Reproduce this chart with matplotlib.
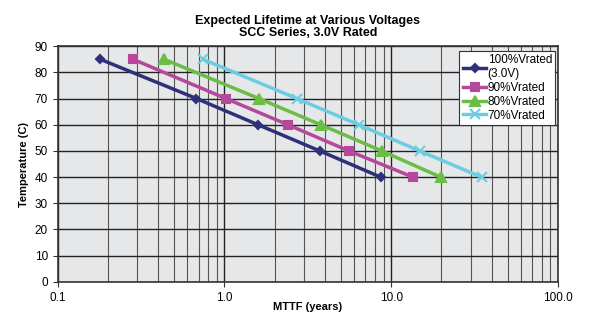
import numpy as np
import matplotlib.pyplot as plt
from matplotlib.ticker import FixedLocator, LogLocator, NullFormatter

plt.rcParams['font.family'] = ['Liberation Sans', 'DejaVu Sans']

temps = [85, 70, 60, 50, 40]
mttf_100 = [0.18, 0.68, 1.59, 3.73, 8.65]
mttf_90 = [0.283, 1.02, 2.40, 5.57, 13.5]
mttf_80 = [0.435, 1.61, 3.78, 8.77, 19.8]
mttf_70 = [0.743, 2.72, 6.38, 14.8, 34.8]

labels = ['100%Vrated\n(3.0V)', '90%Vrated', '80%Vrated', '70%Vrated']
series = [mttf_100, mttf_90, mttf_80, mttf_70]
colors = ['#2e3079', '#b5489a', '#6abd45', '#6ccde0']
markers = ['D', 's', '^', 'x']
msizes = [4.5, 5.5, 6.5, 6.5]

fig = plt.figure(figsize=(6, 3.32), dpi=100)
ax = fig.add_axes([0.096, 0.151, 0.834, 0.710])
ax.set_facecolor('#e6e7e8')

for x, lab, c, m, ms in zip(series, labels, colors, markers, msizes):
    ax.plot(x, temps, color=c, lw=2.5, marker=m, ms=ms, mew=1.5, label=lab)

ax.set_xscale('log')
ax.set_xlim(0.1, 100)
ax.set_ylim(0, 90)
ax.xaxis.set_major_locator(FixedLocator([0.1, 1, 10, 100]))
ax.set_xticklabels(['0.1', '1.0', '10.0', '100.0'])
ax.xaxis.set_minor_locator(LogLocator(base=10, subs=np.arange(2, 10)))
ax.xaxis.set_minor_formatter(NullFormatter())
ax.set_yticks(range(0, 91, 10))

ax.grid(which='major', color='#222222', lw=1.0)
ax.grid(which='minor', axis='x', color='#555555', lw=0.8)
ax.set_axisbelow(True)
for s in ax.spines.values():
    s.set_color('#333333')
    s.set_linewidth(1.2)
ax.tick_params(which='both', labelsize=8.5, color='#333333')
ax.tick_params(which='minor', length=0)

ax.set_title('Expected Lifetime at Various Voltages\nSCC Series, 3.0V Rated',
             fontsize=9, fontweight='bold', linespacing=1.1, pad=7)
ax.set_xlabel('MTTF (years)', fontsize=8, fontweight='bold', labelpad=-1)
ax.set_ylabel('Temperature (C)', fontsize=8, fontweight='bold', labelpad=4)

leg = ax.legend(loc='upper right', bbox_to_anchor=(0.995, 0.98), fontsize=8.5,
                fancybox=False, framealpha=1, edgecolor='#333333',
                handlelength=2.0, handletextpad=0.1, borderpad=0.3,
                labelspacing=0.15, borderaxespad=0.0)
leg.get_frame().set_linewidth(0.8)

fig.savefig('out.png', dpi=100)
